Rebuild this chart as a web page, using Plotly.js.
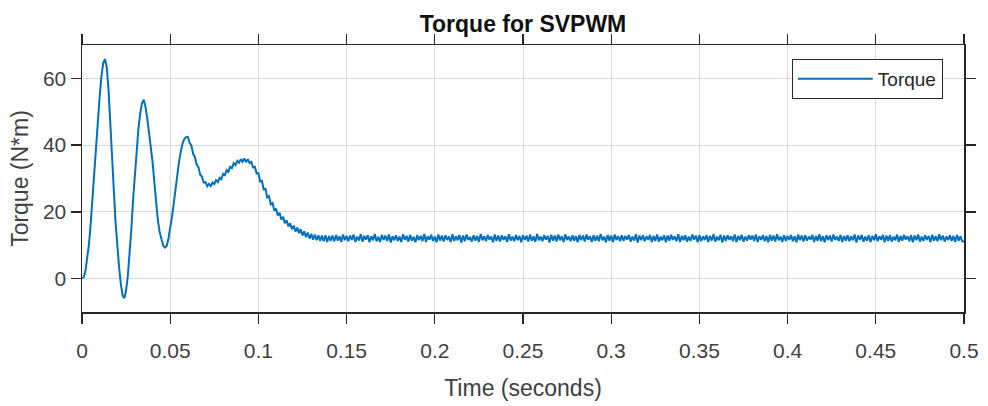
<!DOCTYPE html>
<html>
<head>
<meta charset="utf-8">
<script src="https://cdn.plot.ly/plotly-3.0.1.min.js"></script>
<style>html,body{margin:0;padding:0;background:#fff;}#chart{width:988px;height:406px;}</style>
</head>
<body>
<div id="chart"></div>
<script>
// Sampling: first sample time and step (seconds)
var timeStart = 0;
var timeStep = 0.001;

// Torque (N*m), transient part 0 .. 0.150 s
var torqueTransient = [
  0, 0.5, 2.5, 6, 10.5, 17, 25, 33, 40.5, 47.5,
  54.5, 60.5, 64.5, 65.8, 63.5, 57, 48, 37, 27, 17,
  9, 3.5, -1.5, -5, -5.9, -3.5, 1, 7, 15, 24,
  32, 39.5, 45, 49.5, 52.5, 53.6, 51.5, 48, 44, 40,
  35, 29, 22.5, 17.5, 14, 11.5, 10, 9.3, 9.8, 12,
  15, 18.5, 22.5, 27, 31.5, 35, 38, 40.5, 41.8, 42.4,
  42.5, 40.7, 39.9, 37.4, 36.4, 34.2, 33.4, 31.1, 30.6, 28.8,
  28.9, 27.7, 28.4, 27.7, 28.8, 28.3, 29.5, 28.9, 30.2, 29.8,
  31.4, 31.0, 32.5, 32.0, 33.5, 33.1, 34.6, 34.0, 35.3, 34.7,
  35.8, 35.0, 36.0, 34.9, 35.8, 34.6, 35.0, 33.3, 33.5, 31.5,
  31.6, 29.1, 29.3, 26.7, 26.9, 24.3, 24.7, 22.3, 22.7, 20.4,
  21.0, 18.9, 19.7, 17.7, 18.5, 16.6, 17.5, 15.6, 16.6, 14.8,
  15.9, 14.1, 15.3, 13.6, 14.8, 12.9, 14.2, 12.4, 13.8, 12.0,
  13.4, 11.7, 13.2, 11.5, 13.0, 11.3, 12.9, 11.2, 13.0, 11.0,
  12.8, 11.3, 12.9, 11.1, 13.1, 11.4, 12.7, 11.0, 13.2, 11.5,
  12.8
];

// Torque (N*m), steady part 0.151 .. 0.500 s
var torqueSteady = [
  11.2, 12.9, 11.6, 13.2, 11.0, 12.6, 11.4, 13.3, 11.1, 12.8,
  11.7, 13.0, 10.9, 12.7, 11.5, 13.4, 11.2, 12.5, 11.0, 13.1,
  11.6, 12.9, 11.3, 13.2, 10.8, 12.7, 11.5, 13.0, 11.2, 12.6,
  11.0, 13.3, 11.6, 12.8, 11.1, 13.1, 11.4, 12.5, 10.9, 13.0,
  11.5, 12.8, 11.2, 13.4, 11.0, 12.7, 11.7, 13.1, 11.3, 12.6,
  10.9, 13.2, 11.4, 12.9, 11.1, 13.0, 11.6, 12.6, 11.0, 13.3,
  11.3, 12.7, 11.5, 13.1, 10.8, 12.9, 11.2, 13.2, 11.6, 12.5,
  11.1, 13.0, 11.4, 12.8, 11.0, 13.4, 11.5, 12.7, 11.2, 13.1,
  11.7, 12.6, 10.9, 13.2, 11.3, 12.9, 11.1, 13.0, 11.6, 12.7,
  11.0, 13.3, 11.4, 12.6, 11.2, 13.1, 11.5, 12.8, 10.9, 13.0,
  11.6, 12.9, 11.1, 13.2, 11.3, 12.7, 11.0, 13.4, 11.5, 12.6,
  11.2, 13.0, 11.7, 12.8, 10.8, 13.1, 11.4, 12.9, 11.1, 13.2,
  11.5, 12.7, 11.0, 13.3, 11.6, 12.6, 11.2, 13.0, 11.4, 12.8,
  10.9, 13.1, 11.5, 12.9, 11.1, 13.2, 11.6, 12.7, 11.0, 13.0,
  11.3, 12.8, 11.2, 13.4, 11.5, 12.6, 10.9, 13.1, 11.4, 12.9,
  11.0, 13.2, 11.6, 12.7, 11.2, 13.0, 11.3, 12.8, 11.7, 13.1,
  11.1, 12.6, 11.4, 13.3, 10.8, 12.9, 11.5, 13.0, 11.2, 12.7,
  11.6, 13.1, 11.0, 12.8, 11.3, 13.2, 11.1, 12.6, 11.5, 13.0,
  10.9, 12.9, 11.4, 13.1, 11.6, 12.7, 11.2, 13.3, 11.0, 12.8,
  11.5, 13.0, 11.1, 12.6, 11.3, 13.2, 11.7, 12.9, 10.9, 13.1,
  11.2, 12.7, 11.6, 13.0, 11.0, 12.8, 11.4, 13.3, 11.1, 12.6,
  11.5, 13.1, 10.8, 12.9, 11.3, 13.0, 11.6, 12.7, 11.2, 13.2,
  11.0, 12.8, 11.5, 13.1, 11.1, 12.6, 11.4, 13.0, 11.7, 12.9,
  11.3, 13.2, 11.0, 12.7, 11.6, 13.0, 11.2, 12.8, 10.9, 13.1,
  11.4, 12.9, 11.1, 13.3, 11.5, 12.6, 11.0, 13.0, 11.3, 12.8,
  11.6, 13.1, 11.2, 12.7, 10.9, 13.2, 11.5, 12.9, 11.1, 13.0,
  11.4, 12.6, 11.7, 13.1, 11.0, 12.8, 11.3, 13.3, 11.2, 12.7,
  10.9, 13.0, 11.5, 12.9, 11.1, 13.2, 11.6, 12.6, 11.3, 13.1,
  11.0, 12.8, 11.4, 13.0, 11.2, 12.7, 11.5, 13.2, 10.8, 12.9,
  11.6, 13.1, 11.1, 12.6, 11.4, 13.0, 11.0, 12.8, 11.5, 13.3,
  11.2, 12.7, 11.6, 13.1, 10.9, 12.9, 11.3, 13.0, 11.1, 12.6,
  11.5, 13.2, 11.0, 12.8, 11.4, 13.1, 11.7, 12.7, 11.2, 13.0,
  10.9, 12.9, 11.5, 13.2, 11.1, 12.6, 11.3, 13.0, 11.6, 12.8,
  11.0, 13.1, 11.4, 12.7, 11.2, 13.3, 11.5, 12.9, 11.1, 12.6,
  11.6, 13.0, 11.3, 12.8, 11.0, 13.1, 11.4, 12.7, 11.2, 11.0
];

var xTickVals = [0, 0.05, 0.1, 0.15, 0.2, 0.25, 0.3, 0.35, 0.4, 0.45, 0.5];
var xTickText = ['0', '0.05', '0.1', '0.15', '0.2', '0.25', '0.3', '0.35', '0.4', '0.45', '0.5'];
var yTickVals = [0, 20, 40, 60];
var yTickText = ['0', '20', '40', '60'];

var torque = torqueTransient.concat(torqueSteady);

var trace = {
  type: 'scatter',
  mode: 'lines',
  name: 'Torque',
  x0: timeStart,
  dx: timeStep,
  y: torque,
  line: {color: '#0072BD', width: 2},
  showlegend: true
};

var axisCommon = {
  showline: true, linecolor: '#262626', linewidth: 1.5,
  mirror: 'ticks', ticks: 'outside', ticklen: 10, tickwidth: 1.3, tickcolor: '#262626',
  showgrid: true, gridcolor: '#dadada', gridwidth: 1,
  zeroline: false,
  tickfont: {size: 21, color: '#404040'}
};

var layout = {
  width: 988, height: 406,
  margin: {l: 82, r: 24, t: 45, b: 94},
  paper_bgcolor: '#ffffff', plot_bgcolor: '#ffffff',
  font: {family: '"Liberation Sans", Arial, sans-serif', color: '#262626'},
  title: {
    text: '<b>Torque for SVPWM</b>',
    font: {size: 23, color: '#111111'},
    x: 0.5, xref: 'paper', xanchor: 'center',
    y: 0.94, yref: 'container', yanchor: 'middle'
  },
  xaxis: Object.assign({}, axisCommon, {
    range: [0, 0.5],
    tickmode: 'array', tickvals: xTickVals, ticktext: xTickText,
    ticklabelstandoff: 9,
    title: {text: 'Time (seconds)', font: {size: 23, color: '#404040'}, standoff: 19}
  }),
  yaxis: Object.assign({}, axisCommon, {
    range: [-10, 70],
    tickmode: 'array', tickvals: yTickVals, ticktext: yTickText,
    title: {text: 'Torque (N*m)', font: {size: 23, color: '#404040'}, standoff: 8}
  }),
  legend: {
    x: 0.976, xanchor: 'right', y: 0.948, yanchor: 'top',
    bgcolor: '#ffffff', bordercolor: '#262626', borderwidth: 1,
    itemwidth: 75,
    font: {size: 19, color: '#262626'}
  },
  showlegend: true
};

Plotly.newPlot('chart', [trace], layout, {staticPlot: true, displayModeBar: false});
</script>
</body>
</html>
